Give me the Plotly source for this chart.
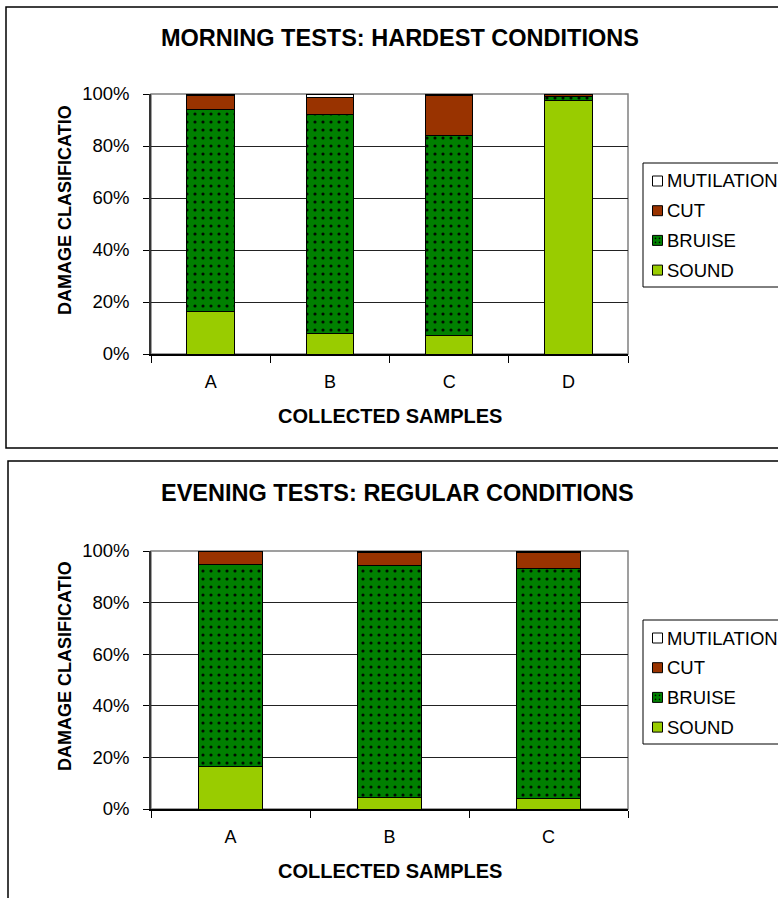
import plotly.graph_objects as go

# --- data -------------------------------------------------------------
series_names = ["SOUND", "BRUISE", "CUT", "MUTILATION"]

morning_samples = ["A", "B", "C", "D"]
morning_sound = [16.5, 8.0, 7.0, 97.5]
morning_bruise = [77.5, 84.0, 77.0, 1.5]
morning_cut = [5.5, 6.5, 15.5, 0.8]
morning_mutilation = [0.5, 1.5, 0.5, 0.2]

evening_samples = ["A", "B", "C"]
evening_sound = [16.4, 4.4, 3.9]
evening_bruise = [78.4, 90.1, 89.2]
evening_cut = [5.2, 5.0, 6.4]
evening_mutilation = [0.0, 0.5, 0.5]

y_ticks = [0, 20, 40, 60, 80, 100]

# --- styling ----------------------------------------------------------
W, H = 778, 898
FONT = "Liberation Sans, Arial, sans-serif"
COLORS = {"SOUND": "#99CC00", "BRUISE": "#008000", "CUT": "#993300", "MUTILATION": "#FFFFFF"}


def px_x(x):
    return x / W


def px_y(y):
    return 1 - y / H


def add_bars(fig, cats, values, xa, ya):
    for name, vals in zip(series_names, values):
        marker = dict(color=COLORS[name], line=dict(color="black", width=1))
        if name == "BRUISE":
            marker["pattern"] = dict(shape=".", bgcolor=COLORS[name], fgcolor="black",
                                     fgopacity=0.9, size=8, solidity=0.12, fillmode="replace")
        fig.add_trace(go.Bar(x=cats, y=vals, name=name, marker=marker, width=0.4,
                             xaxis=xa, yaxis=ya, showlegend=False,
                             hovertemplate="%{x}: %{y:.1f}%<extra>" + name + "</extra>"))


fig = go.Figure()
add_bars(fig, morning_samples,
         [morning_sound, morning_bruise, morning_cut, morning_mutilation], "x", "y")
add_bars(fig, evening_samples,
         [evening_sound, evening_bruise, evening_cut, evening_mutilation], "x2", "y2")

# plot areas in pixels: (left, right, top, bottom)
panels = [
    dict(xa="xaxis", ya="yaxis", cats=morning_samples, box=(151, 628, 94, 354),
         frame=(6, 7, 448), title="MORNING TESTS: HARDEST CONDITIONS", title_y=38,
         title_x=400, xtitle_y=416, legend_top=163),
    dict(xa="xaxis2", ya="yaxis2", cats=evening_samples, box=(151, 628, 551, 809),
         frame=(8, 461, 960), title="EVENING TESTS: REGULAR CONDITIONS", title_y=493,
         title_x=397, xtitle_y=871, legend_top=620),
]

shapes = []
annotations = []
axes = {}

for p in panels:
    l, r, t, b = p["box"]
    yref = p["ya"].replace("axis", "")
    xref = p["xa"].replace("axis", "")
    axes[p["xa"]] = dict(
        domain=[px_x(l), px_x(r)], anchor=yref, type="category",
        range=[-0.5, len(p["cats"]) - 0.5], tickson="boundaries",
        ticks="outside", ticklen=7, tickcolor="black", tickwidth=1,
        showline=True, linecolor="black", linewidth=1.5, showgrid=False,
        tickfont=dict(family=FONT, size=18, color="black"), ticklabelstandoff=11,
        fixedrange=True,
    )
    axes[p["ya"]] = dict(
        domain=[px_y(b), px_y(t)], anchor=xref, range=[0, 100],
        tickvals=y_ticks, ticktext=[f"{v}%" for v in y_ticks],
        ticks="outside", ticklen=6, tickcolor="black", tickwidth=1,
        showline=True, linecolor="#333333", linewidth=1.5,
        showgrid=True, gridcolor="#222222", gridwidth=1, zeroline=False,
        tickfont=dict(family=FONT, size=18.5, color="black"), ticklabelstandoff=10,
        fixedrange=True,
    )
    # chart frame
    fx, fy0, fy1 = p["frame"]
    shapes.append(dict(type="rect", xref="paper", yref="paper",
                       x0=px_x(fx), x1=px_x(800), y0=px_y(fy1), y1=px_y(fy0),
                       line=dict(color="black", width=1.5), fillcolor="rgba(0,0,0,0)",
                       layer="below"))
    # plot-area border (gray, top and right visible)
    shapes.append(dict(type="rect", xref=xref + " domain", yref=yref + " domain",
                       x0=0, x1=1, y0=0, y1=1,
                       line=dict(color="#808080", width=1.5), layer="below"))
    # titles
    annotations.append(dict(text="<b>" + p["title"] + "</b>", xref="paper", yref="paper",
                            x=px_x(p["title_x"]), y=px_y(p["title_y"]), showarrow=False,
                            xanchor="center", yanchor="middle",
                            font=dict(family=FONT, size=23.5, color="black")))
    annotations.append(dict(text="<b>COLLECTED SAMPLES</b>", xref="paper", yref="paper",
                            x=px_x(390), y=px_y(p["xtitle_y"]), showarrow=False,
                            xanchor="center", yanchor="middle",
                            font=dict(family=FONT, size=20, color="black")))
    annotations.append(dict(text="<b>DAMAGE CLASIFICATIO</b>", xref="paper", yref="paper",
                            x=px_x(65), y=px_y((t + b) / 2 - 14), showarrow=False,
                            textangle=-90, xanchor="center", yanchor="middle",
                            font=dict(family=FONT, size=18, color="black")))
    # legend box with swatches (top entry is the last stacked series)
    lt = p["legend_top"]
    shapes.append(dict(type="rect", xref="paper", yref="paper",
                       x0=px_x(643), x1=px_x(800), y0=px_y(lt + 124), y1=px_y(lt),
                       line=dict(color="black", width=1), fillcolor="white"))
    for i, name in enumerate(reversed(series_names)):
        cy = lt + 18 + i * 29.7
        shapes.append(dict(type="rect", xref="paper", yref="paper",
                           x0=px_x(652.5), x1=px_x(662.5), y0=px_y(cy + 5), y1=px_y(cy - 5),
                           line=dict(color="black", width=1), fillcolor=COLORS[name]))
        if name == "BRUISE":
            for dx, dy in [(-2, -2), (2, -2), (-2, 2), (2, 2)]:
                shapes.append(dict(type="circle", xref="paper", yref="paper",
                                   x0=px_x(657.5 + dx - 0.8), x1=px_x(657.5 + dx + 0.8),
                                   y0=px_y(cy + dy + 0.8), y1=px_y(cy + dy - 0.8),
                                   line=dict(width=0), fillcolor="black"))
        annotations.append(dict(text=name, xref="paper", yref="paper",
                                x=px_x(665), y=px_y(cy), showarrow=False,
                                xanchor="left", yanchor="middle",
                                font=dict(family=FONT, size=18.5, color="black")))

fig.update_layout(
    width=W, height=H,
    margin=dict(l=0, r=0, t=0, b=0, autoexpand=False),
    paper_bgcolor="white", plot_bgcolor="white",
    barmode="stack", showlegend=False,
    shapes=shapes, annotations=annotations,
    **axes,
)

fig.write_html("out.html")
